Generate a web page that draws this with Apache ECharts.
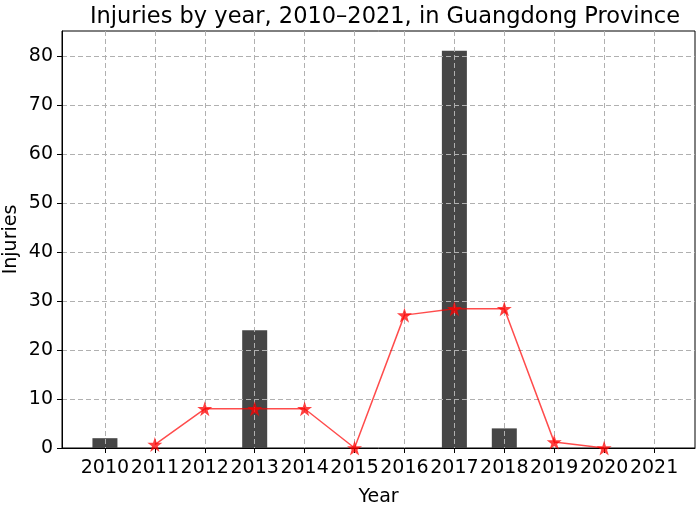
<!DOCTYPE html>
<html><head><meta charset="utf-8">
<script src="https://cdn.jsdelivr.net/npm/echarts@6/dist/echarts.min.js"></script>
<style>html,body{margin:0;padding:0;background:#fff}#c{width:699px;height:506px}</style>
</head><body><div id="c"></div>
<script>
var years = [2010,2011,2012,2013,2014,2015,2016,2017,2018,2019,2020,2021];
var barYears = [2010,2013,2017,2018];
var barValues = [2,24,81,4];
var lineYears = [2011,2012,2013,2014,2015,2016,2017,2018,2019,2020];
var lineValues = [0.7,8,8,8,0,27.1,28.4,28.4,1.2,0];
var yTicks = [0,10,20,30,40,50,60,70,80];

var star = 'path://M50,0 L61.8,36.2 L100,36.2 L69.1,58.8 L80.9,95.1 L50,72.7 L19.1,95.1 L30.9,58.8 L0,36.2 L38.2,36.2 Z';
var font = 'DejaVu Sans';
var chart = echarts.init(document.getElementById('c'));
chart.setOption({
  animation:false,
  title:{text:'Injuries by year, 2010\u20132021, in Guangdong Province', left:380, top:1, textAlign:'center',
    textStyle:{fontFamily:font, fontSize:22.5, fontWeight:'normal', color:'#000'}},
  grid:{left:62, right:4, top:31, bottom:58, show:true, borderColor:'#000', borderWidth:1, backgroundColor:'transparent',
    containLabel:false, outerBoundsMode:'none'},
  xAxis:{type:'value', min:2009.14, max:2021.82, z:3,
    name:'Year', nameLocation:'middle', nameGap:40, nameMoveOverlap:false, nameTextStyle:{fontFamily:font, fontSize:19, color:'#000'},
    axisLine:{show:true, lineStyle:{color:'#000'}},
    axisTick:{show:true, length:5, customValues:years, lineStyle:{color:'#000'}},
    axisLabel:{customValues:years, fontFamily:font, fontSize:19, color:'#000', margin:11, hideOverlap:false, formatter:function(v){return String(v);}},
    splitLine:{show:true, lineStyle:{color:'#b0b0b0', type:[5,3], width:1}}},
  yAxis:{type:'value', min:0, max:85.05, z:3,
    name:'Injuries', nameLocation:'middle', nameGap:41, nameMoveOverlap:false, nameTextStyle:{fontFamily:font, fontSize:19, color:'#000'},
    axisLine:{show:true, lineStyle:{color:'#000'}},
    axisTick:{show:true, length:5, customValues:yTicks, lineStyle:{color:'#000'}},
    axisLabel:{customValues:yTicks, fontFamily:font, fontSize:19, color:'#000', margin:9},
    splitLine:{show:true, lineStyle:{color:'#b0b0b0', type:[5,3], width:1}}},
  series:[
    {type:'bar', data:barYears.map(function(y,i){return [y,barValues[i]];}), barWidth:25,
      itemStyle:{color:'#464646'}, z:2},
    {type:'line', data:lineYears.map(function(y,i){return [y,lineValues[i]];}), z:4,
      symbol:star, symbolSize:15, showAllSymbol:true,
      lineStyle:{color:'rgba(255,0,0,0.7)', width:1.5},
      itemStyle:{color:'rgba(255,0,0,0.75)', borderWidth:0}}
  ]
});
</script></body></html>
